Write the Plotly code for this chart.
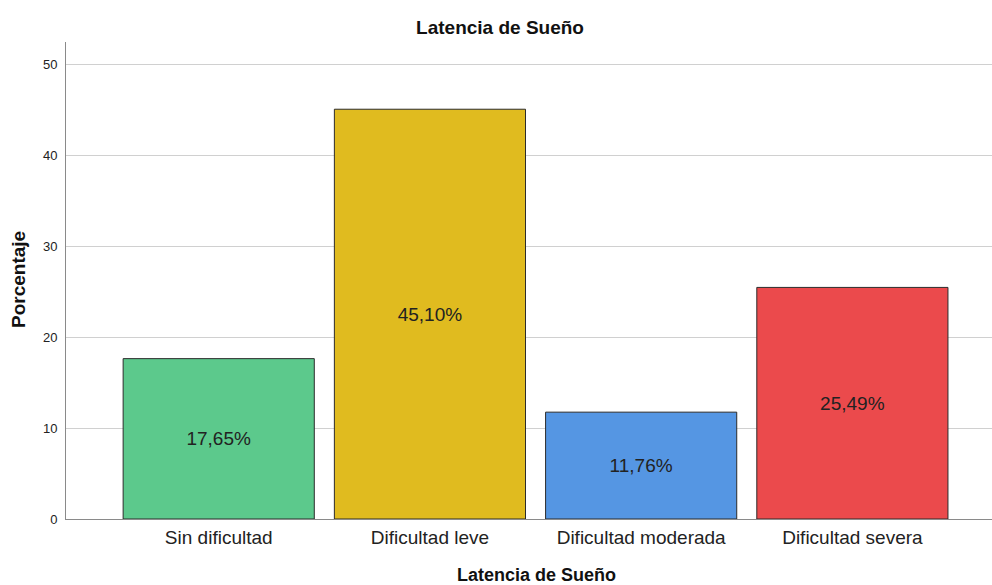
import plotly.graph_objects as go

categories = ["Sin dificultad", "Dificultad leve", "Dificultad moderada", "Dificultad severa"]
percentages = [17.65, 45.10, 11.76, 25.49]
bar_colors = ["#5CC98C", "#E0BB1F", "#5596E3", "#EB4A4C"]
y_ticks = [0, 10, 20, 30, 40, 50]

labels = [f"{v:.2f}%".replace(".", ",") for v in percentages]

W, H = 992, 585
L, R, T, B = 66, 0, 42, 66
FONT = "Liberation Sans, Arial, sans-serif"

fig = go.Figure(go.Bar(
    x=list(range(len(categories))),
    y=percentages,
    width=0.905,
    marker=dict(color=bar_colors, line=dict(color="#2b2b2b", width=1)),
    text=labels,
    textposition="inside",
    insidetextanchor="middle",
    textfont=dict(family=FONT, size=19, color="#222222"),
    textangle=0,
    hoverinfo="skip",
))

fig.update_layout(
    width=W, height=H,
    margin=dict(l=L, r=R, t=T, b=B),
    plot_bgcolor="white", paper_bgcolor="white",
    showlegend=False,
    font=dict(family=FONT, color="#111111"),
    title=dict(text="<b>Latencia de Sueño</b>", x=500 / W, xanchor="center",
               y=1 - 27 / H, yanchor="middle", yref="container",
               font=dict(size=19, color="#111111")),
    xaxis=dict(
        range=[-0.723, 3.661],
        tickmode="array", tickvals=list(range(len(categories))), ticktext=categories,
        tickfont=dict(size=19, color="#222222"),
        showgrid=False, zeroline=False,
        showline=True, linecolor="#8a8a8a", linewidth=1,
        ticks="outside", ticklen=1, tickcolor="rgba(0,0,0,0)",
    ),
    yaxis=dict(
        range=[0, 52.5],
        tickmode="array", tickvals=y_ticks,
        tickfont=dict(size=13, color="#222222"),
        showgrid=True, gridcolor="#d0d0d0", gridwidth=1,
        zeroline=False,
        showline=True, linecolor="#8a8a8a", linewidth=1,
        ticks="outside", ticklen=5, tickcolor="rgba(0,0,0,0)",
    ),
    annotations=[
        dict(text="<b>Latencia de Sueño</b>", xref="paper", yref="paper",
             x=(536 - L) / (W - L - R), y=-(575 - (H - B)) / (H - T - B),
             xanchor="center", yanchor="middle", showarrow=False,
             font=dict(size=18, color="#111111")),
        dict(text="<b>Porcentaje</b>", xref="paper", yref="paper",
             x=-(L - 18) / (W - L - R), y=(H - B - 280) / (H - T - B),
             xanchor="center", yanchor="middle", showarrow=False, textangle=-90,
             font=dict(size=19, color="#111111")),
    ],
)

fig.write_html("out.html")
